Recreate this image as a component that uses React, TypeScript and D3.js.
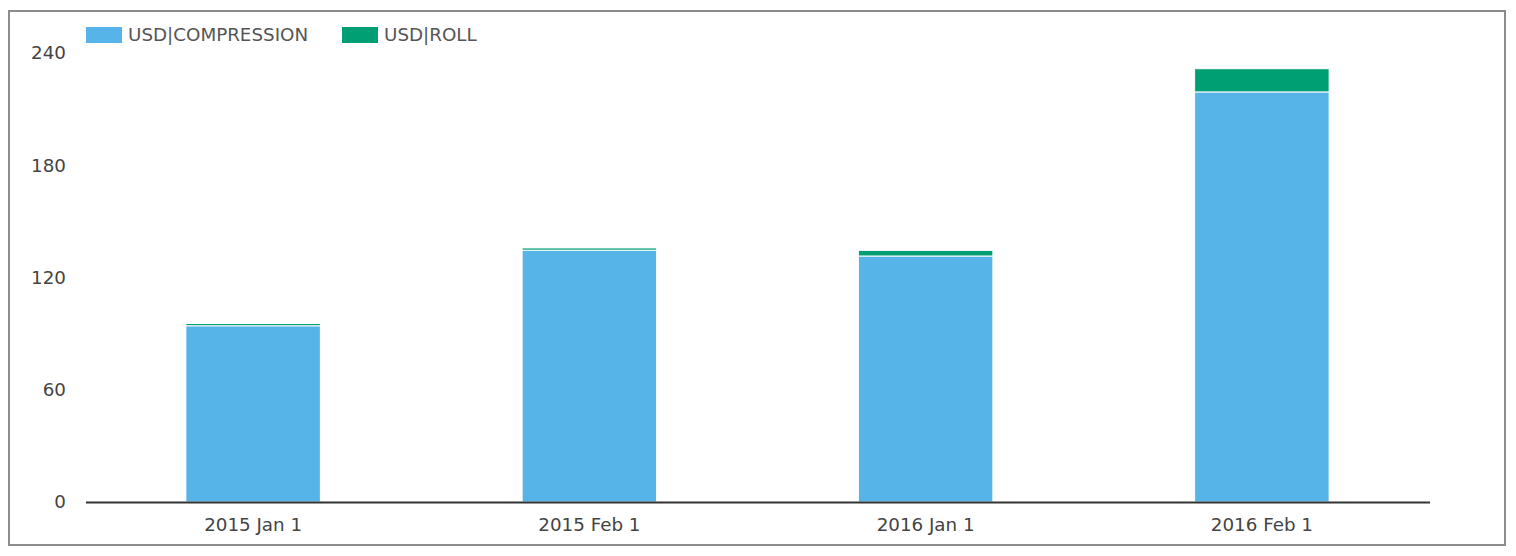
import React from "react";
import * as d3 from "d3";

const categories = ["2015 Jan 1", "2015 Feb 1", "2016 Jan 1", "2016 Feb 1"];
const compression = [94.2, 134.6, 131.5, 219.2];
const roll = [1.2, 1.2, 3.0, 12.4];
const seriesNames = ["USD|COMPRESSION", "USD|ROLL"];
const seriesColors = ["#56b4e9", "#009e73"];
const yTicks = [0, 60, 120, 180, 240];

export default function App() {
  const W = 1516, H = 556;
  const left = 85, right = 1430, top = 53, bottom = 502;
  const x = d3.scaleBand<string>().domain(categories).range([left, right]).paddingInner(0.6).paddingOuter(0.3);
  const y = d3.scaleLinear().domain([0, 240]).range([bottom, top]);
  const rows = categories.map((c, i) => ({ cat: c, "USD|COMPRESSION": compression[i], "USD|ROLL": roll[i] }));
  const stack = d3.stack<any>().keys(seriesNames)(rows);
  const font = "'DejaVu Sans', Verdana, sans-serif";
  const fs = 18.3;
  return (
    <svg width={W} height={H} style={{ position: "fixed", left: 0, top: 0 }} fontFamily={font}>
      <rect x={9} y={11} width={1496} height={534} fill="white" stroke="#8c8c8c" strokeWidth={2} />
      {stack.map((s, si) => (
        <g key={si} fill={seriesColors[si]}>
          {s.map((d, i) => (
            <rect key={i} x={x(categories[i])} y={y(d[1])} width={x.bandwidth()} height={Math.max(0, y(d[0]) - y(d[1]))}
              stroke="white" strokeWidth={1} />
          ))}
        </g>
      ))}
      <line x1={86} x2={right} y1={bottom + 0.5} y2={bottom + 0.5} stroke="#333" strokeWidth={2} />
      {yTicks.map(t => (
        <text key={t} x={66} y={y(t)} dy="0.35em" textAnchor="end" fontSize={fs} fill="#444">{t}</text>
      ))}
      {categories.map(c => (
        <text key={c} x={(x(c) as number) + x.bandwidth() / 2} y={524.5} dy="0.35em" textAnchor="middle" fontSize={fs} fill="#444">{c}</text>
      ))}
      {seriesNames.map((n, i) => (
        <g key={n} transform={`translate(${86 + i * 256},27)`}>
          <rect width={36} height={16} fill={seriesColors[i]} />
          <text x={42} y={8} dy="0.35em" fontSize={fs} fill="#555">{n}</text>
        </g>
      ))}
    </svg>
  );
}
